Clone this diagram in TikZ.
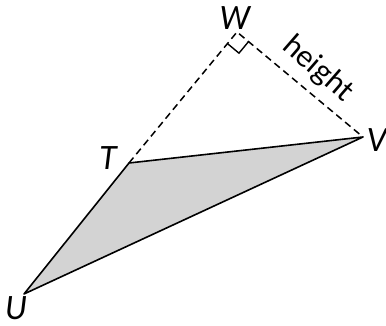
\documentclass[tikz,border=0pt]{standalone}
\usepackage{fontspec}
\setmainfont{Lato}
\usetikzlibrary{calc}
\definecolor{fillgray}{RGB}{211,211,211}
\tikzset{
  lbl/.style={inner sep=0pt, font=\fontsize{32}{36}\selectfont\itshape},
  dash line/.style={line width=1.5pt, dash pattern=on 7pt off 4.5pt},
  solid edge/.style={line width=1.6pt, line join=round},
}
\begin{document}
\begin{tikzpicture}[x=1pt,y=1pt]
\useasboundingbox (0,0) rectangle (386,326);
\coordinate (W) at (237,294);
\coordinate (V) at (363,189);
\coordinate (T) at (129,163);
\coordinate (U) at (24,32);
\fill[fillgray] (T) -- (V) -- (U) -- cycle;
\draw[solid edge] (T) -- (V) -- (U) -- cycle;
\draw[dash line] (T) -- (W) -- (V);
\coordinate (m1) at ($(W)!15pt!(T)$);
\coordinate (m2) at ($(W)!15pt!(V)$);
\draw[line width=1.4pt] (m1) -- ($(m1)+(m2)-(W)$) -- (m2);
\node[lbl] (lW) at (235,308) {W};
\node[lbl] (lV) at (377,186) {V};
\node[lbl] (lT) at (108,168) {T};
\node[lbl] (lU) at (16,18) {U};
\node[inner sep=0pt, font=\fontsize{30}{34}\selectfont, rotate=-41] (h) at (318,257) {height};
\end{tikzpicture}
\end{document}
